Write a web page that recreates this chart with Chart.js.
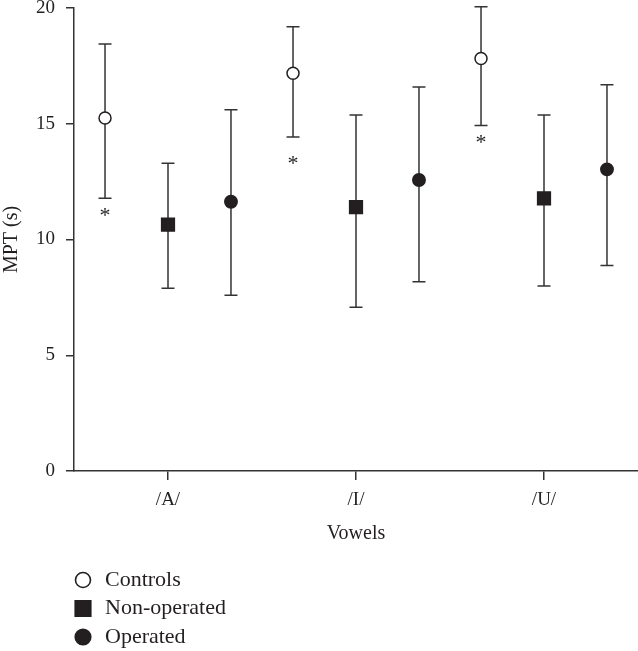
<!DOCTYPE html>
<html><head><meta charset="utf-8">
<script src="https://cdn.jsdelivr.net/npm/chart.js@4.4.1/dist/chart.umd.min.js"></script>
<style>html,body{margin:0;padding:0;background:#fff;overflow:hidden}canvas{display:block}</style>
</head><body><canvas id="c" width="638" height="651" style="width:638px;height:651px"></canvas>
<script>
// ---- data ----
const categories = ['/A/', '/I/', '/U/'];
const seriesNames = ['Controls', 'Non-operated', 'Operated'];
const controlsMean = [15.25, 17.18, 17.82];
const controlsLow  = [11.78, 14.43, 14.92];
const controlsHigh = [18.44, 19.19, 20.05];
const nonOpMean = [10.64, 11.40, 11.78];
const nonOpLow  = [7.89, 7.07, 7.99];
const nonOpHigh = [13.29, 15.38, 15.38];
const opMean = [11.63, 12.57, 13.03];
const opLow  = [7.59, 8.18, 8.88];
const opHigh = [15.61, 16.59, 16.69];
const significanceY = [11.2, 13.45, 14.37];   // '*' marks under Controls
const yTicks = [0, 5, 10, 15, 20];
const xTitle = 'Vowels';
const yTitle = 'MPT (s)';

// ---- styles ----
const INK = '#231f20';
const FONT = "'Liberation Serif', 'Times New Roman', serif";
const offsets = [-0.335, 0, 0.335];
const styles = [
  {pointStyle: 'circle', radius: 6, bg: '#ffffff', legendRadius: 7.5},
  {pointStyle: 'rect', radius: 9, bg: INK, legendRadius: 11},
  {pointStyle: 'circle', radius: 6.2, bg: INK, legendRadius: 7.8}
];
const means = [controlsMean, nonOpMean, opMean];
const lows = [controlsLow, nonOpLow, opLow];
const highs = [controlsHigh, nonOpHigh, opHigh];

const datasets = seriesNames.map((name, s) => ({
  label: name,
  data: categories.map((c, i) => ({x: i + 1 + offsets[s], y: means[s][i]})),
  low: lows[s], high: highs[s],
  pointStyle: styles[s].pointStyle,
  pointRadius: styles[s].radius,
  pointHoverRadius: styles[s].radius,
  pointBackgroundColor: styles[s].bg,
  pointBorderColor: INK,
  pointBorderWidth: 1.5,
  showLine: false,
  clip: false
}));

const errorBars = {
  id: 'errorBars',
  beforeDatasetsDraw(chart) {
    const ctx = chart.ctx, xs = chart.scales.x, ys = chart.scales.y;
    ctx.save();
    ctx.strokeStyle = '#333';
    ctx.lineWidth = 1.5;
    chart.data.datasets.forEach(ds => {
      ds.data.forEach((p, i) => {
        const x = xs.getPixelForValue(p.x);
        const yl = ys.getPixelForValue(ds.low[i]);
        const yh = ys.getPixelForValue(ds.high[i]);
        ctx.beginPath();
        ctx.moveTo(x, yl); ctx.lineTo(x, yh);
        ctx.moveTo(x - 6.5, yl); ctx.lineTo(x + 6.5, yl);
        ctx.moveTo(x - 6.5, yh); ctx.lineTo(x + 6.5, yh);
        ctx.stroke();
      });
    });
    ctx.restore();
  },
  afterDatasetsDraw(chart) {
    const ctx = chart.ctx, xs = chart.scales.x, ys = chart.scales.y;
    const ds = chart.data.datasets[0];
    ctx.save();
    ctx.fillStyle = INK;
    ctx.font = '22px ' + FONT;
    ctx.textAlign = 'center';
    ctx.textBaseline = 'alphabetic';
    ds.data.forEach((p, i) => {
      const x = xs.getPixelForValue(p.x);
      const y = ys.getPixelForValue(significanceY[i]);
      ctx.fillText('*', x, y + 0.48 * 22);
    });
    ctx.restore();
  }
};

const customLegend = {
  id: 'customLegend',
  afterDraw(chart) {
    const ctx = chart.ctx;
    ctx.save();
    ctx.font = '22px ' + FONT;
    ctx.textAlign = 'left';
    ctx.textBaseline = 'middle';
    chart.data.datasets.forEach((ds, s) => {
      const y = 580 + s * 28.5;
      ctx.fillStyle = styles[s].bg;
      ctx.strokeStyle = INK;
      ctx.lineWidth = 1.6;
      Chart.helpers.drawPoint(ctx, {pointStyle: styles[s].pointStyle, radius: styles[s].legendRadius, rotation: 0, borderWidth: 1.6}, 83, y);
      ctx.fillStyle = INK;
      ctx.fillText(ds.label, 105, y);
    });
    ctx.restore();
  }
};

new Chart(document.getElementById('c'), {
  type: 'scatter',
  data: {datasets},
  plugins: [errorBars, customLegend],
  options: {
    responsive: false,
    maintainAspectRatio: false,
    devicePixelRatio: 1,
    animation: false,
    layout: {autoPadding: false, padding: {top: 8, left: 0, right: 0, bottom: 0}},
    plugins: {legend: {display: false}, tooltip: {enabled: false}},
    scales: {
      x: {
        type: 'linear', min: 0.5, max: 3.5,
        afterBuildTicks: s => { s.ticks = categories.map((c, i) => ({value: i + 1})); },
        afterFit: s => { s.height = 180; s.paddingLeft = 0; s.paddingRight = 0; },
        ticks: {
          autoSkip: false, maxRotation: 0,
          callback: v => categories[Math.round(v) - 1],
          font: {family: FONT, size: 19}, color: INK, padding: 9
        },
        grid: {drawOnChartArea: false, drawTicks: true, tickLength: 9, color: '#333', lineWidth: 1.5},
        border: {display: true, color: '#333', width: 1.5},
        title: {display: true, text: xTitle, font: {family: FONT, size: 20}, color: INK, padding: {top: 0, bottom: 105}}
      },
      y: {
        type: 'linear', min: 0, max: 20,
        afterBuildTicks: s => { s.ticks = yTicks.map(v => ({value: v})); },
        afterFit: s => { s.width = 74; s.paddingTop = 0; s.paddingBottom = 0; },
        ticks: {font: {family: FONT, size: 19}, color: INK, padding: 11},
        grid: {drawOnChartArea: false, drawTicks: true, tickLength: 8, color: '#333', lineWidth: 1.5},
        border: {display: true, color: '#333', width: 1.5},
        title: {display: true, text: yTitle, font: {family: FONT, size: 20}, color: INK, padding: {top: 0, bottom: 0}}
      }
    }
  }
});
</script>
</body></html>
